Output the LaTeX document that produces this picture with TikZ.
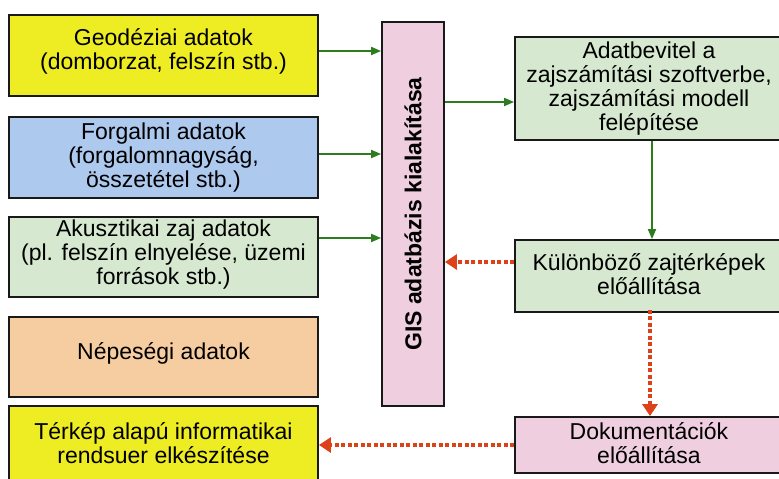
\documentclass[tikz,border=0pt]{standalone}
\usepackage{fontspec}
\setmainfont{Liberation Sans}
\usetikzlibrary{arrows.meta}
\definecolor{cyel}{RGB}{238,236,34}
\definecolor{cblue}{RGB}{174,201,238}
\definecolor{cgreen}{RGB}{214,233,208}
\definecolor{corange}{RGB}{246,205,161}
\definecolor{cpink}{RGB}{239,206,224}
\definecolor{garr}{RGB}{45,125,30}
\definecolor{rarr}{RGB}{220,65,25}
\definecolor{cborder}{RGB}{25,25,25}
\tikzset{
  box/.style={draw=cborder, line width=1.8pt, rectangle, inner sep=0pt, align=center,
    font=\fontsize{23}{24}\selectfont},
  lbox/.style={box, minimum width=309pt, minimum height=80pt},
  rbox/.style={box, minimum width=268pt},
  txt/.style={inner sep=0pt, align=center, font=\fontsize{23}{24}\selectfont},
  garrow/.style={draw=garr, line width=1.8pt, -{Triangle[width=8pt,length=10pt]}},
  rarrow/.style={draw=rarr, line width=4.2pt, dash pattern=on 4pt off 2.5pt,
    -{Triangle[width=15pt,length=12pt]}}
}
\begin{document}
\begin{tikzpicture}[x=1pt,y=-1pt]
\useasboundingbox (0,0) rectangle (779,479);
\clip (0,0) rectangle (779,479);
\fill[white] (0,0) rectangle (779,479);
\node[lbox, fill=cyel, minimum height=81pt] (b1) at (163.5,55.5) {};
\node[txt, yshift=4pt] (t1) at (b1.center) {Geodéziai adatok\\(domborzat, felszín stb.)};
\node[lbox, fill=cblue, minimum height=81pt] (b2) at (163.5,157.5) {};
\node[txt] (t2) at (b2.center) {Forgalmi adatok\\(forgalomnagyság,\\összetétel stb.)};
\node[lbox, fill=cgreen] (b3) at (163.5,257) {};
\node[txt, yshift=2pt] (t3) at (b3.center) {Akusztikai zaj adatok\\(pl. felszín elnyelése, üzemi\\források stb.)};
\node[lbox, fill=corange] (b4) at (163.5,357) {};
\node[txt, yshift=4pt] (t4) at (b4.center) {Népeségi adatok};
\node[lbox, fill=cyel] (b5) at (163.5,446) {};
\node[txt, yshift=3pt] (t5) at (b5.center) {Térkép alapú informatikai\\rendsuer elkészítése};
\node[box, fill=cpink, minimum width=62pt, minimum height=384pt] (gis) at (413,214) {};
\node[font=\bfseries\fontsize{23}{24}\selectfont, rotate=90] (gist) at (gis.center) {GIS adatbázis kialakítása};
\node[rbox, fill=cgreen, minimum height=103pt] (r1) at (649,88.5) {Adatbevitel a\\zajszámítási szoftverbe,\\zajszámítási modell\\felépítése};
\node[rbox, fill=cgreen, minimum height=72pt] (r2) at (649,276) {};
\node[txt, yshift=2pt] (t6) at (r2.center) {Különböző zajtérképek\\előállítása};
\node[rbox, fill=cpink, minimum height=56pt] (r3) at (649,445) {};
\node[txt, yshift=2pt] (t7) at (r3.center) {Dokumentációk\\előállítása};
\coordinate (r1in) at ([yshift=-13.5pt]r1.west);
\draw[garrow] ([yshift=4.5pt]b1.east) -- ([yshift=4.5pt]b1.east -| gis.west);
\draw[garrow] ([yshift=3.5pt]b2.east) -- ([yshift=3.5pt]b2.east -| gis.west);
\draw[garrow] ([yshift=19pt]b3.east) -- ([yshift=19pt]b3.east -| gis.west);
\draw[garrow] (r1in -| gis.east) -- (r1in);
\draw[garrow] ([xshift=3pt]r1.south) -- ([xshift=3pt]r2.north);
\draw[rarrow] ([yshift=14pt]r2.west) -- ([yshift=14pt]r2.west -| gis.east);
\draw[rarrow] ([xshift=1pt,yshift=3pt]r2.south) -- ([xshift=1pt]r3.north);
\draw[rarrow] (r3.west) -- (r3.west -| b5.east);
\end{tikzpicture}
\end{document}
